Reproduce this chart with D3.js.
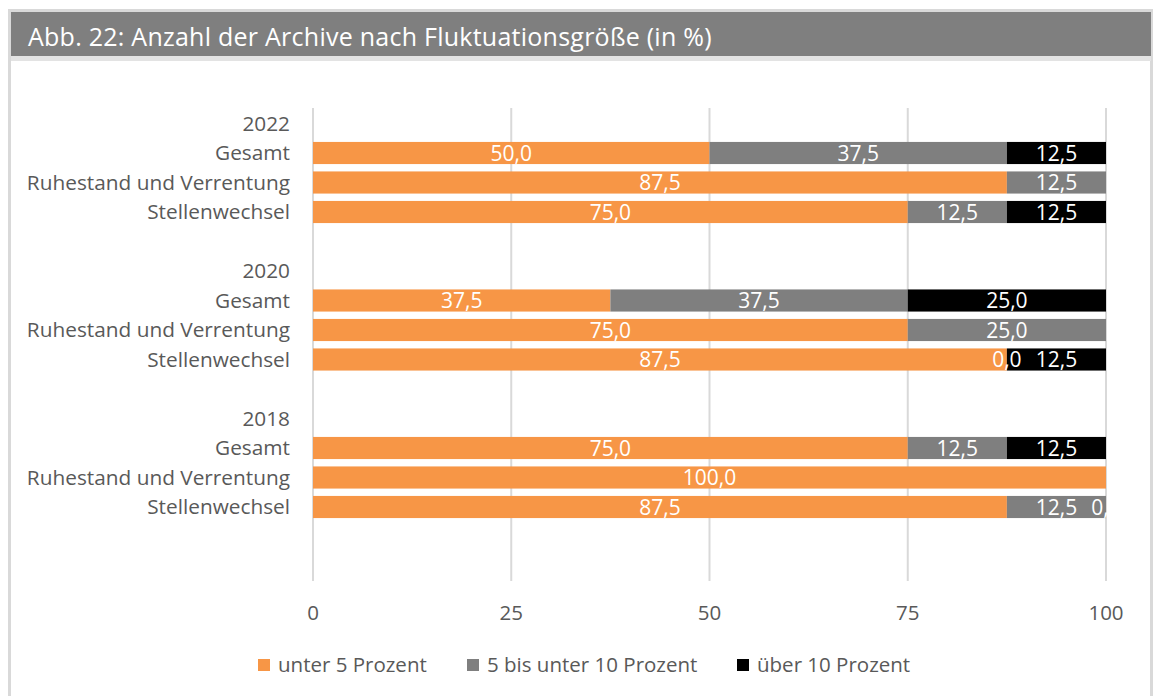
<!DOCTYPE html>
<html>
<head>
<meta charset="utf-8">
<script src="https://cdn.jsdelivr.net/npm/d3@7"></script>
<style>
  body { margin: 0; background: #fff; }
  text { font-family: "Open Sans", "Noto Sans", sans-serif; }
</style>
</head>
<body>
<svg id="chart" width="1154" height="696"></svg>
<script>
// values (percent)
const years = ["2022", "2020", "2018"];
const categories = ["Gesamt", "Ruhestand und Verrentung", "Stellenwechsel"];
const seriesNames = ["unter 5 Prozent", "5 bis unter 10 Prozent", "über 10 Prozent"];
const seriesColors = ["#f79646", "#7f7f7f", "#000000"];
// order: 2022 (G, R, S), 2020 (G, R, S), 2018 (G, R, S); null = no value
const under5 = [50, 87.5, 75, 37.5, 75, 87.5, 75, 100, 87.5];
const from5to10 = [37.5, 12.5, 12.5, 37.5, 25, 0, 12.5, null, 12.5];
const over10 = [12.5, null, 12.5, 25, null, 12.5, 12.5, null, 0];
const xTicks = [0, 25, 50, 75, 100];

const svg = d3.select("#chart");

// frame + title bar
svg.append("rect").attr("x", 9.5).attr("y", 10.5).attr("width", 1142).attr("height", 700)
  .attr("fill", "#fff").attr("stroke", "#d9d9d9").attr("stroke-width", 3);
svg.append("rect").attr("x", 11).attr("y", 56).attr("width", 1140).attr("height", 5).attr("fill", "#e3e3e3");
svg.append("rect").attr("x", 11).attr("y", 12).attr("width", 1140).attr("height", 44).attr("fill", "#7f7f7f");
svg.append("text").attr("x", 28).attr("y", 46).attr("fill", "#fff")
  .style("font-size", "25px").style("letter-spacing", "0.25px")
  .text("Abb. 22: Anzahl der Archive nach Fluktuationsgröße (in %)");

// rows: year header, 3 categories, blank ... plus one trailing blank
const rows = [];
years.forEach((y, yi) => {
  rows.push({ label: y, idx: null });
  categories.forEach((c, ci) => rows.push({ label: c, idx: yi * 3 + ci }));
  rows.push({ label: "", idx: null });
});
rows.push({ label: "", idx: null });

const x = d3.scaleLinear().domain([0, 100]).range([313, 1106]);
const y = d3.scaleBand().domain(d3.range(rows.length)).range([108.75, 580.75])
  .paddingInner(0.25).paddingOuter(0.125);

// gridlines
svg.append("g").selectAll("line").data(xTicks).join("line")
  .attr("x1", d => x(d)).attr("x2", d => x(d))
  .attr("y1", 108).attr("y2", 581)
  .attr("stroke", "#d9d9d9").attr("stroke-width", 2);

// tick labels
svg.append("g").selectAll("text").data(xTicks).join("text")
  .attr("x", d => x(d)).attr("y", 620).attr("text-anchor", "middle")
  .attr("fill", "#595959").style("font-size", "20.5px")
  .text(d => d);

// category labels
svg.append("g").selectAll("text").data(rows).join("text")
  .attr("x", 290).attr("y", (d, i) => y(i) + y.bandwidth() / 2 + 7)
  .attr("text-anchor", "end").attr("fill", "#595959").style("font-size", "20.8px")
  .text(d => d.label);

// stacked segments
const series = [under5, from5to10, over10];
const segs = [];
rows.forEach((r, ri) => {
  if (r.idx === null) return;
  let acc = 0;
  series.forEach((s, si) => {
    const v = s[r.idx];
    if (v === null) return;
    segs.push({ row: ri, s: si, x0: acc, x1: acc + v, v });
    acc += v;
  });
});

svg.append("g").selectAll("rect").data(segs.filter(d => d.v > 0)).join("rect")
  .attr("x", d => x(d.x0)).attr("width", d => x(d.x1) - x(d.x0))
  .attr("y", d => y(d.row)).attr("height", y.bandwidth())
  .attr("fill", d => seriesColors[d.s]);

svg.append("clipPath").attr("id", "plotClip").append("rect")
  .attr("x", 300).attr("y", 100).attr("width", 1108 - 300).attr("height", 500);

const fmt = v => d3.format(".1f")(v).replace(".", ",");
svg.append("g").attr("clip-path", "url(#plotClip)")
  .selectAll("text").data(segs).join("text")
  .attr("x", d => (x(d.x0) + x(d.x1)) / 2)
  .attr("y", d => y(d.row) + y.bandwidth() / 2 + 7.5)
  .attr("text-anchor", "middle").attr("fill", "#fff").style("font-size", "21px")
  .text(d => fmt(d.v));

// legend
const legendX = [258, 467, 737];
const lg = svg.append("g").selectAll("g").data(seriesNames).join("g")
  .attr("transform", (d, i) => `translate(${legendX[i]},659)`);
lg.append("rect").attr("width", 12).attr("height", 12).attr("fill", (d, i) => seriesColors[i]);
lg.append("text").attr("x", 20).attr("y", 13).attr("fill", "#595959")
  .style("font-size", "20.5px").text(d => d);
</script>
</body>
</html>
